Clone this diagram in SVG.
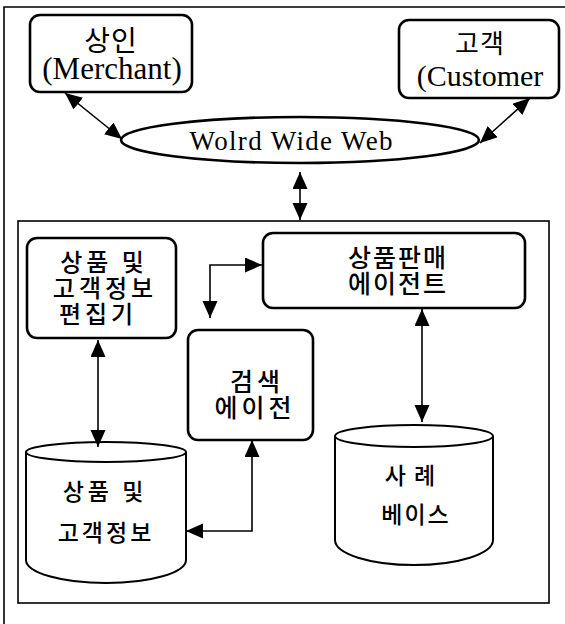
<svg xmlns="http://www.w3.org/2000/svg" width="565" height="624" viewBox="0 0 565 624">
  <style>
    .frame { fill: none; stroke: #000; stroke-width: 1.6; }
    .box { fill: #fff; stroke: #000; stroke-width: 2.6; }
    .db { fill: #fff; stroke: #000; stroke-width: 2; }
    .link { fill: none; stroke: #000; stroke-width: 1.6; marker-start: url(#head); marker-end: url(#head); }
    .lat { font-family: "Liberation Serif", "Noto Sans CJK KR", serif; fill: #000; text-anchor: middle; }
    .kor { font-family: "Noto Sans CJK KR", "Liberation Sans", sans-serif; fill: #000; text-anchor: middle; font-weight: 500; }
    .kor-thin { font-family: "Noto Sans CJK KR", "Liberation Sans", sans-serif; fill: #000; text-anchor: middle; font-weight: 400; }
  </style>
  <defs>
    <marker id="head" markerUnits="userSpaceOnUse" markerWidth="18" markerHeight="16" refX="17" refY="7.5" orient="auto-start-reverse">
      <path d="M0,0 L17,7.5 L0,15 z" fill="#000"/>
    </marker>
  </defs>

  <rect width="565" height="624" fill="#fff"/>

  <!-- outer frame (cut off at right and bottom) -->
  <path class="frame" d="M4,624 L4,7 L565,7"/>
  <!-- inner system boundary -->
  <rect class="frame" x="18" y="221" width="531" height="382"/>

  <g id="merchant">
    <rect class="box" x="30" y="15" width="162" height="77" rx="10"/>
    <text class="kor-thin" x="111" y="51" font-size="28" letter-spacing="1">상인</text>
    <text class="lat" x="112" y="79" font-size="31">(Merchant)</text>
  </g>

  <g id="customer">
    <rect class="box" x="399" y="20" width="160" height="78" rx="10"/>
    <text class="kor-thin" x="480" y="53" font-size="26" letter-spacing="1">고객</text>
    <text class="lat" x="480" y="86" font-size="30">(Customer</text>
  </g>

  <g id="web">
    <ellipse cx="300" cy="140" rx="179" ry="23" fill="#fff" stroke="#000" stroke-width="2.6"/>
    <text class="lat" x="291" y="150" font-size="27" textLength="203" lengthAdjust="spacing">Wolrd Wide Web</text>
  </g>

  <g id="editor">
    <rect class="box" x="27" y="238" width="149" height="100" rx="10"/>
    <text class="kor" x="104" y="271" font-size="24" letter-spacing="4">상품 및</text>
    <text class="kor" x="105" y="297" font-size="24" letter-spacing="4">고객정보</text>
    <text class="kor" x="98" y="323" font-size="24" letter-spacing="4">편집기</text>
  </g>

  <g id="sales-agent">
    <rect class="box" x="263" y="233" width="262" height="75" rx="10"/>
    <text class="kor" x="398" y="267" font-size="25" letter-spacing="2">상품판매</text>
    <text class="kor" x="398" y="293" font-size="25" letter-spacing="2">에이전트</text>
  </g>

  <g id="search-agent">
    <rect class="box" x="188" y="330" width="125" height="110" rx="10"/>
    <text class="kor" x="257" y="391" font-size="25" letter-spacing="4">검색</text>
    <text class="kor" x="255" y="417" font-size="25" letter-spacing="4">에이전</text>
  </g>

  <g id="product-db">
    <path class="db" d="M26,452 L26,560 A80,23 0 0 0 186,560 L186,452"/>
    <ellipse class="db" cx="106" cy="452" rx="80" ry="10"/>
    <text class="kor" x="105" y="500" font-size="23" letter-spacing="4">상품 및</text>
    <text class="kor" x="106" y="541" font-size="23" letter-spacing="3">고객정보</text>
  </g>

  <g id="case-base">
    <path class="db" d="M335,436 L335,540 A79,25 0 0 0 493,540 L493,436"/>
    <ellipse class="db" cx="414" cy="436" rx="79" ry="11"/>
    <text class="kor" x="414" y="484" font-size="23" letter-spacing="8">사례</text>
    <text class="kor" x="416" y="523" font-size="23" letter-spacing="2">베이스</text>
  </g>

  <g id="connectors">
    <path class="link" d="M65,93 L122,139"/>
    <path class="link" d="M530,98 L480,143"/>
    <path class="link" d="M300,172 L300,220"/>
    <path class="link" d="M262,265 L210,265 L210,318"/>
    <path class="link" d="M98,340 L98,447"/>
    <path class="link" d="M252,440 L252,531 L186,531"/>
    <path class="link" d="M422,309 L422,422"/>
  </g>
</svg>
